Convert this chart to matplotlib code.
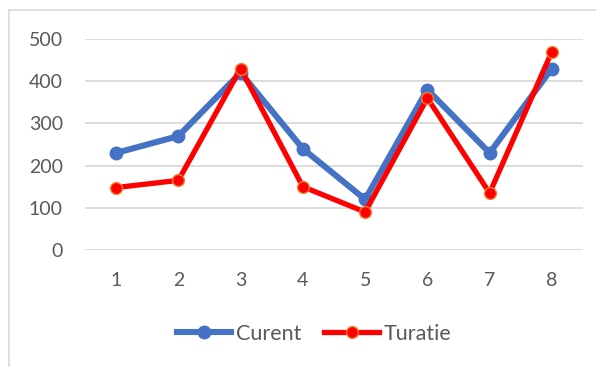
import matplotlib
matplotlib.use("Agg")
import matplotlib.pyplot as plt
from matplotlib.lines import Line2D

categories = [1, 2, 3, 4, 5, 6, 7, 8]
curent = [230, 270, 420, 240, 120, 380, 230, 430]
turatie = [148, 165, 430, 150, 90, 360, 135, 470]
yticks = [0, 100, 200, 300, 400, 500]

plt.rcParams['font.family'] = ['Lato', 'DejaVu Sans']
text_color = '#595959'
grid_color = '#d9d9d9'

W, H = 596, 367
fig = plt.figure(figsize=(W / 100, H / 100), dpi=100)
ax = fig.add_axes([85 / W, (H - 250) / H, (583 - 85) / W, (250 - 39) / H])

ax.plot(categories, curent, color='#4472c4', lw=4.4, marker='o', ms=9,
        mfc='#4472c4', mec='#4472c4', label='Curent', clip_on=False, zorder=3)
ax.plot(categories, turatie, color='#ff0000', lw=3.8, marker='o', ms=8.5,
        mfc='#ff0000', mec='#ed7d31', mew=1.0, label='Turatie', clip_on=False, zorder=4)

ax.set_xlim(0.5, 8.5)
ax.set_ylim(0, 500)
ax.set_xticks(categories)
ax.set_xticklabels([str(c) for c in categories])
ax.set_yticks(yticks)
ax.set_yticklabels([str(v) for v in yticks])
ax.tick_params(axis='both', length=0, labelsize=14, colors=text_color)
ax.tick_params(axis='y', pad=16)
ax.tick_params(axis='x', pad=16)
for s in ax.spines.values():
    s.set_visible(False)
ax.grid(axis='y', color=grid_color, lw=1.3)
ax.set_axisbelow(True)

# chart frame
fig.add_artist(Line2D([9 / W, 9 / W], [0, (H - 10) / H], color=grid_color, lw=1.2))
fig.add_artist(Line2D([9 / W, 1], [(H - 10) / H, (H - 10) / H], color=grid_color, lw=1.2))

leg = fig.legend(loc='center', bbox_to_anchor=(314 / W, (H - 334) / H), ncol=2,
                 frameon=False, fontsize=15.5, handlelength=2.55, columnspacing=1.05,
                 handletextpad=0.22, labelcolor=text_color)

fig.savefig('out.png', dpi=100)
